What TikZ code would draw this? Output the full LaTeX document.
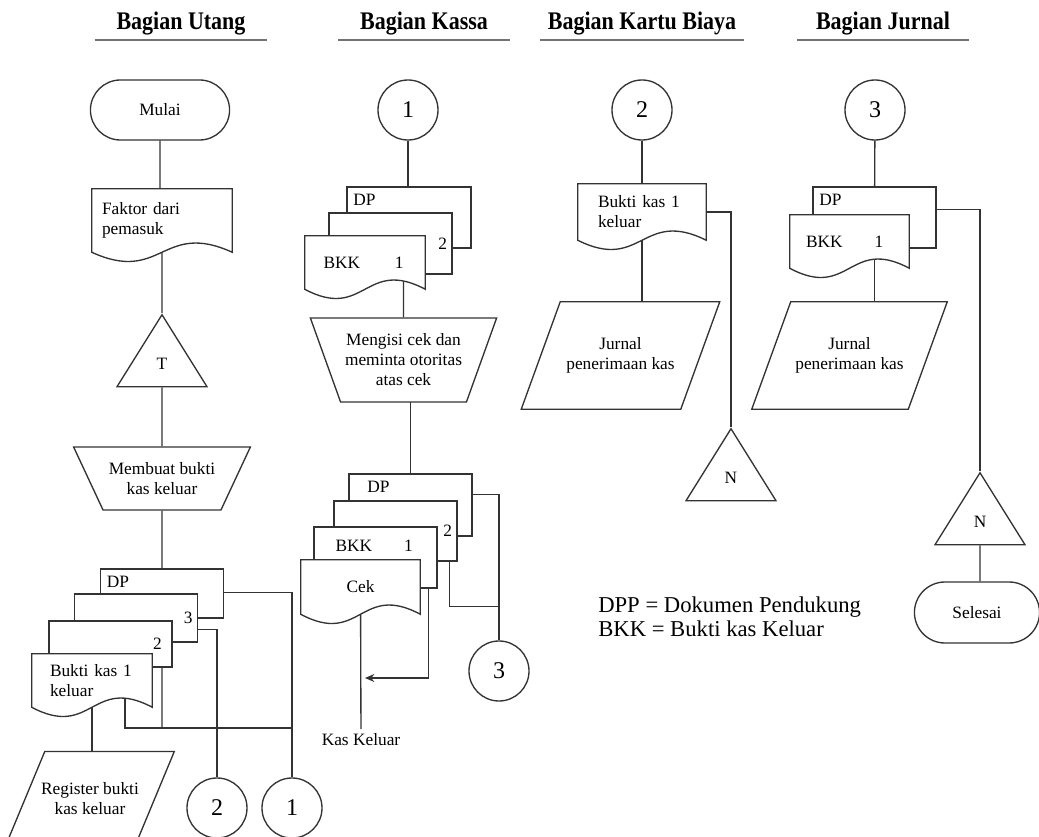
\documentclass[tikz,border=0pt]{standalone}
\usepackage{fontspec}
\setmainfont{Liberation Serif}
\usetikzlibrary{shapes.geometric, shapes.misc, arrows.meta, positioning, calc, backgrounds}

\newcommand{\headtext}[1]{\scalebox{1}[1.15]{#1}}

\begin{document}
\begin{tikzpicture}[
    x=0.75pt, y=-0.75pt,
    font=\fontsize{13}{15}\selectfont,
    header/.style={font=\fontsize{16.5}{18}\selectfont\bfseries, inner sep=0pt, minimum width=129pt},
    headline/.style={draw=black!55, line width=1.5pt},
    terminal/.style={rounded rectangle, draw=black!80, fill=white, line width=1pt, minimum height=45pt},
    connector/.style={circle, draw=black!80, fill=white, line width=1pt, minimum size=45pt, inner sep=0pt, font=\fontsize{18}{20}\selectfont},
    offpage/.style={isosceles triangle, shape border rotate=90, isosceles triangle stretches, draw=black!80, fill=white, line width=1pt, minimum width=67.5pt, minimum height=54pt, inner sep=2pt},
    manual/.style={trapezium, shape border rotate=180, trapezium stretches, draw=black!80, fill=white, line width=1pt, align=center},
    io/.style={rectangle, align=center, minimum height=80.25pt, append after command={\pgfextra{
        \draw[draw=black!80, fill=white, line width=1pt] ($(\tikzlastnode.north west)+(19.5,0)$) -- ($(\tikzlastnode.north east)+(19.5,0)$)
          -- ($(\tikzlastnode.south east)+(-19.5,0)$) -- ($(\tikzlastnode.south west)+(-19.5,0)$) -- cycle;}}},
    sheet/.style={rectangle, draw=black!80, fill=white, line width=1pt, minimum width=92.25pt, minimum height=45.75pt},
    doc/.style={rectangle, align=left, append after command={\pgfextra{
        \draw[draw=black!80, fill=white, line width=1pt] (\tikzlastnode.south east) -- (\tikzlastnode.north east)
          -- (\tikzlastnode.north west) -- (\tikzlastnode.south west)
          .. controls ($(\tikzlastnode.south)+(0,32)$) and ($(\tikzlastnode.south)+(0,-32)$) .. (\tikzlastnode.south east) -- cycle;}}},
    line/.style={draw=black!80, line width=1pt}
]
\path[use as bounding box, clip] (0,0) rectangle (1039,837);

% Headers
\node[header, anchor=base] (hutang) at (181,30) {\headtext{Bagian Utang}};
\node[header, anchor=base] (hkassa) at (424,30) {\headtext{Bagian Kassa}};
\node[header, anchor=base, minimum width=153pt] (hbiaya) at (642,30) {\headtext{Bagian Kartu Biaya}};
\node[header, anchor=base] (hjurnal) at (883,30) {\headtext{Bagian Jurnal}};
\foreach \h in {hutang, hkassa, hbiaya, hjurnal}
    \draw[headline] ($(\h.base west)+(0,10)$) -- ($(\h.base east)+(0,10)$);

% Nodes: Bagian Utang
\node[terminal, minimum width=111pt] (mulai) at (160,110) {Mulai};
\node[doc, minimum width=105pt, minimum height=47.25pt, text width=90pt, inner xsep=7.5pt] (faktor) at (162,220.5) {Faktor dari\\pemasuk};
\node[offpage, anchor=apex] (tutang) at (162,313) {T};
\node[manual, trapezium angle=55, minimum width=132.75pt, minimum height=47.25pt] (membuat) at (162,478.5) {Membuat bukti\\kas keluar};
\node[sheet, minimum height=36.75pt, label={[anchor=north west, inner xsep=5pt, inner ysep=6pt]north west:DP}] (dputang) at (162,593.5) {};
\node[sheet, minimum height=36pt, label={[anchor=east, inner xsep=4pt]east:3}] (lbrtiga) at (136,618) {};
\node[sheet, minimum height=34.5pt, label={[anchor=east, inner xsep=8pt]east:2}] (lbrdua) at (110.5,644) {};
\node[doc, minimum width=90pt, minimum height=39.75pt, text width=63pt, inner xsep=13.5pt] (bkkutang) at (92,680.5) {Bukti kas 1\\keluar};
\node[io, minimum width=96.75pt, minimum height=70pt] (register) at (90,798.5) {Register bukti\\kas keluar};
\node[connector] (ctwo) at (217,808) {2};
\node[connector] (cone) at (292,808) {1};

% Nodes: Bagian Kassa
\node[connector] (conekassa) at (408,110) {1};
\node[sheet, minimum width=93pt, label={[anchor=north west, inner xsep=5pt, inner ysep=6pt]north west:DP}] (dpkassa) at (409,217.5) {};
\node[sheet, label={[anchor=east, inner xsep=4pt]east:2}] (lbrkassa) at (390.5,243.5) {};
\node[doc, minimum width=90pt, minimum height=39.75pt, text width=62pt, inner xsep=14pt] (bkkkassa) at (365,262.5) {BKK\hspace{26pt}1};
\node[manual, trapezium angle=63.7, minimum width=138.75pt, minimum height=63pt] (mengisi) at (403.5,360) {Mengisi cek dan\\meminta otoritas\\atas cek};
\node[sheet, minimum height=46.5pt, label={[anchor=north west, inner xsep=14pt, inner ysep=6pt]north west:DP}] (dpcek) at (410.5,505) {};
\node[sheet, minimum height=45pt, label={[anchor=east, inner xsep=4pt]east:2}] (lbrcek) at (395.5,531) {};
\node[sheet, label={[anchor=north west, inner xsep=16.5pt, inner ysep=10pt]north west:BKK\hspace{24pt}1}] (bkkcek) at (375.5,557.5) {};
\node[doc, align=center, minimum width=89.25pt, minimum height=40.5pt] (cek) at (360.5,587) {Cek};
\node[connector] (cthree) at (499,671) {3};
\node (kaskeluar) at (361,740) {Kas Keluar};

% Nodes: Bagian Kartu Biaya
\node[connector] (ctwobiaya) at (642,110) {2};
\node[doc, minimum width=96pt, minimum height=42pt, text width=66pt, inner xsep=15pt] (bkkbiaya) at (642,212) {Bukti kas 1\\keluar};
\node[io, minimum width=119.25pt] (jurbiaya) at (620.5,355.5) {Jurnal\\penerimaan kas};
\node[offpage, anchor=apex] (nbiaya) at (731,427) {N};

% Nodes: Bagian Jurnal
\node[connector] (cthreejurnal) at (875,110) {3};
\node[sheet, label={[anchor=north west, inner xsep=5pt, inner ysep=6pt]north west:DP}] (dpjurnal) at (874.5,217.5) {};
\node[doc, minimum width=89.25pt, minimum height=39.75pt, text width=65.25pt, inner xsep=12pt] (bkkjurnal) at (849.5,241.5) {BKK\hspace{24pt}1};
\node[io, minimum width=117pt] (jurjurnal) at (849.5,355.5) {Jurnal\\penerimaan kas};
\node[offpage, anchor=apex] (njurnal) at (980,471) {N};
\node[terminal, minimum width=100.5pt, minimum height=45.75pt] (selesai) at (977,612.5) {Selesai};

% Legend
\node[align=left, anchor=north west, inner sep=0pt, font=\fontsize{17}{18}\selectfont] (legend) at (598,597) {DPP = Dokumen Pendukung\\BKK = Bukti kas Keluar};

% Junctions
\coordinate (jutang) at (292,728);
\coordinate (jkassa) at ($(cthree.north)+(0,-34)$);
\coordinate (kasarrow) at (365,678);

% Connections
\begin{scope}[on background layer]
\draw[line] (mulai) -- (mulai |- faktor.north);
\draw[line] (faktor) -- (tutang);
\draw[line] (tutang) -- (membuat);
\draw[line] (membuat) -- (membuat |- jutang);
\draw[line] ($(dputang.north east)+(0,24)$) -| (cone);
\draw[line] ($(lbrtiga.north east)+(0,36)$) -| (ctwo);
\draw[line] ($(bkkutang.south)+(33,-20)$) |- (jutang);
\draw[line] (bkkutang.south) -- (bkkutang.south |- register.north);

\draw[line] (conekassa) -- (conekassa |- dpkassa.north);
\draw[line] (mengisi) -- (mengisi |- dpkassa.south);
\draw[line] (dpcek.north) -- (dpcek.north |- mengisi);
\draw[line] ($(dpcek.north east)+(0,21)$) -| (cthree);
\draw[line] ($(lbrcek.south east)+(-8,0)$) |- (jkassa);
\draw[line, -{Stealth[length=7pt, width=6pt]}] ($(bkkcek.south east)+(-9,0)$) |- (kasarrow);
\draw[line] (cek) -- (kaskeluar);

\draw[line] (ctwobiaya) -- (bkkbiaya);
\draw[line] (bkkbiaya) -- (bkkbiaya |- jurbiaya.north);
\draw[line] (bkkbiaya.east) -| (nbiaya);

\draw[line] (cthreejurnal) -- (dpjurnal);
\draw[line] (dpjurnal) -- (dpjurnal |- jurjurnal.north);
\draw[line] ($(dpjurnal.north east)+(0,23)$) -| (njurnal);
\draw[line] (njurnal) -- (njurnal |- selesai.north);
\end{scope}

\end{tikzpicture}
\end{document}
